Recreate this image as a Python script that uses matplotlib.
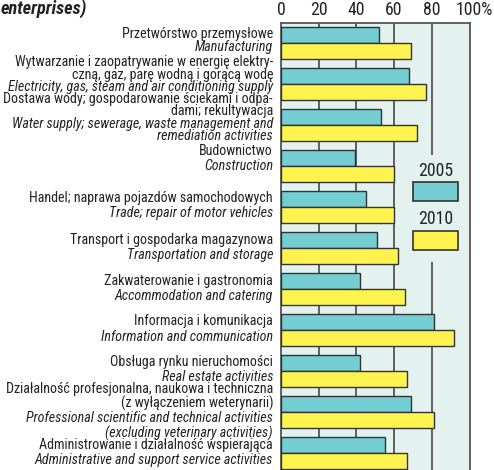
import matplotlib
matplotlib.use('Agg')
import matplotlib.pyplot as plt
import matplotlib.transforms as mtransforms
from matplotlib import font_manager as fm
from matplotlib.patches import Rectangle
import numpy as np

# data (share of enterprises, %)
years = ['2005', '2010']
values_2005 = [52, 68, 53, 39, 45, 51, 42, 81, 42, 69, 55]
values_2010 = [69, 77, 72, 60, 60, 62, 66, 92, 67, 81, 67]

# labels: (polish lines, english lines)
labels_pl = [
    ['Przetwórstwo przemysłowe'],
    ['Wytwarzanie i zaopatrywanie w energię elektry-', 'czną, gaz, parę wodną i gorącą wodę'],
    ['Dostawa wody; gospodarowanie ściekami i odpa-', 'dami; rekultywacja'],
    ['Budownictwo'],
    ['Handel; naprawa pojazdów samochodowych'],
    ['Transport i gospodarka magazynowa'],
    ['Zakwaterowanie i gastronomia'],
    ['Informacja i komunikacja'],
    ['Obsługa rynku nieruchomości'],
    ['Działalność profesjonalna, naukowa i techniczna', '(z wyłączeniem weterynarii)'],
    ['Administrowanie i działalność wspierająca'],
]
labels_en = [
    ['Manufacturing'],
    ['Electricity, gas, steam and air conditioning supply'],
    ['Water supply; sewerage, waste management and', 'remediation activities'],
    ['Construction'],
    ['Trade; repair of motor vehicles'],
    ['Transportation and storage'],
    ['Accommodation and catering'],
    ['Information and communication'],
    ['Real estate activities'],
    ['Professional scientific and technical activities', '(excluding veterinary activities)'],
    ['Administrative and support service activities'],
]
ticks = [0, 20, 40, 60, 80, 100]
tick_labels = ['0', '20', '40', '60', '80', '100%']

# layout (pixels): first label line offset from group centre, line spacing
label_top = [-9, -22, -26, -15, -9, -8, -8, -9, -9, -23, -8]
label_step = [13, 12.5, 12.3, 15, 15, 15, 15, 15.5, 15, 14.7, 15]

# pick a narrow font if one is installed
names = {f.name for f in fm.fontManager.ttflist}
stretch = 'normal'
family = 'Liberation Sans'
for cand in ['Liberation Sans Narrow', 'Roboto Condensed', 'Open Sans Condensed',
             'DejaVu Sans Condensed']:
    if cand in names:
        family = cand
        break
else:
    if any(f.name == 'DejaVu Sans' and f.stretch in ('condensed', 'semi-condensed')
           for f in fm.fontManager.ttflist):
        family, stretch = 'DejaVu Sans', 'condensed'
plt.rcParams['font.family'] = [family, 'DejaVu Sans']
plt.rcParams['font.stretch'] = stretch

C2005 = '#74cdd3'
C2010 = '#fff44f'
BG = '#e3f2ef'
EDGE = '#333333'
GRID = '#555555'
TXT = '#222222'

W, H = 494, 470
fig = plt.figure(figsize=(W / 100, H / 100), dpi=100)
renderer = fig.canvas.get_renderer()

# size label text so the longest line spans the same width as the reference
probe = fig.text(0, 0, labels_en[1][0], fontsize=10, style='italic')
wpx = probe.get_window_extent(renderer).width
probe.remove()
fs = 10 * 266 / wpx
probe = fig.text(0, 0, '100%', fontsize=10)
wpx = probe.get_window_extent(renderer).width
probe.remove()
tick_fs = min(10 * 37 / wpx, fs * 1.35)

px = 41.0  # pixels per group
x0, x1 = 281, 469.5
y_top = 23
ax = fig.add_axes([x0 / W, 0, (x1 - x0) / W, 1 - y_top / H])
ax.set_xlim(0, 100)
ax.set_ylim((H - 43) / px, (y_top - 43) / px)
ax.set_facecolor(BG)

n = len(values_2005)
y = np.arange(n)
bh = 16 / px
for v in [20, 40, 60]:
    ax.axvline(v, color=GRID, lw=1.3, zorder=1)
ax.vlines(80, (y_top - 43) / px, (155 - 43) / px, color=GRID, lw=1.3, zorder=1)
ax.vlines(80, (262 - 43) / px, (H - 43) / px, color=GRID, lw=1.3, zorder=1)

ax.barh(y - bh / 2, values_2005, height=bh, color=C2005, edgecolor=EDGE, lw=1, zorder=3)
ax.barh(y + bh / 2, values_2010, height=bh, color=C2010, edgecolor=EDGE, lw=1, zorder=3)

for s in ['top', 'left', 'right']:
    ax.spines[s].set_color(GRID)
    ax.spines[s].set_linewidth(1.3)
ax.spines['bottom'].set_visible(False)
ax.set_yticks([])
ax.xaxis.tick_top()
ax.set_xticks(ticks)
ax.set_xticklabels(tick_labels, fontsize=tick_fs, color=TXT)
ax.tick_params(axis='x', length=0, pad=3)
lbl = ax.get_xticklabels()[-1]
lbl.set_transform(lbl.get_transform() + mtransforms.ScaledTranslation(5 / 100, 0, fig.dpi_scale_trans))

# legend inside the plot
for k, (yr, col) in enumerate(zip(years, [C2005, C2010])):
    ty = (170.7 + k * 48.6 - 43) / px
    by = (182.3 + k * 48.6 - 43) / px
    ax.text(82, ty, yr, ha='center', va='center', fontsize=tick_fs, color=TXT)
    ax.add_patch(Rectangle((70, by), 24, 19 / px, facecolor=col, edgecolor=EDGE, lw=1.2, zorder=3))

# category labels
tr = mtransforms.blended_transform_factory(fig.transFigure, ax.transData)
for i in range(n):
    lines = [(t, 'normal') for t in labels_pl[i]] + [(t, 'italic') for t in labels_en[i]]
    for j, (t, st) in enumerate(lines):
        yy = i + (label_top[i] + j * label_step[i]) / px
        fig.text(273 / W, yy, t, transform=tr, ha='right', va='center',
                 fontsize=fs, style=st, color=TXT)

fig.text(1 / W, 1 - 9 / H, 'enterprises)', ha='left', va='center', fontsize=fs * 1.3,
         style='italic', weight='bold', color=TXT)

fig.savefig('out.png', dpi=100)
